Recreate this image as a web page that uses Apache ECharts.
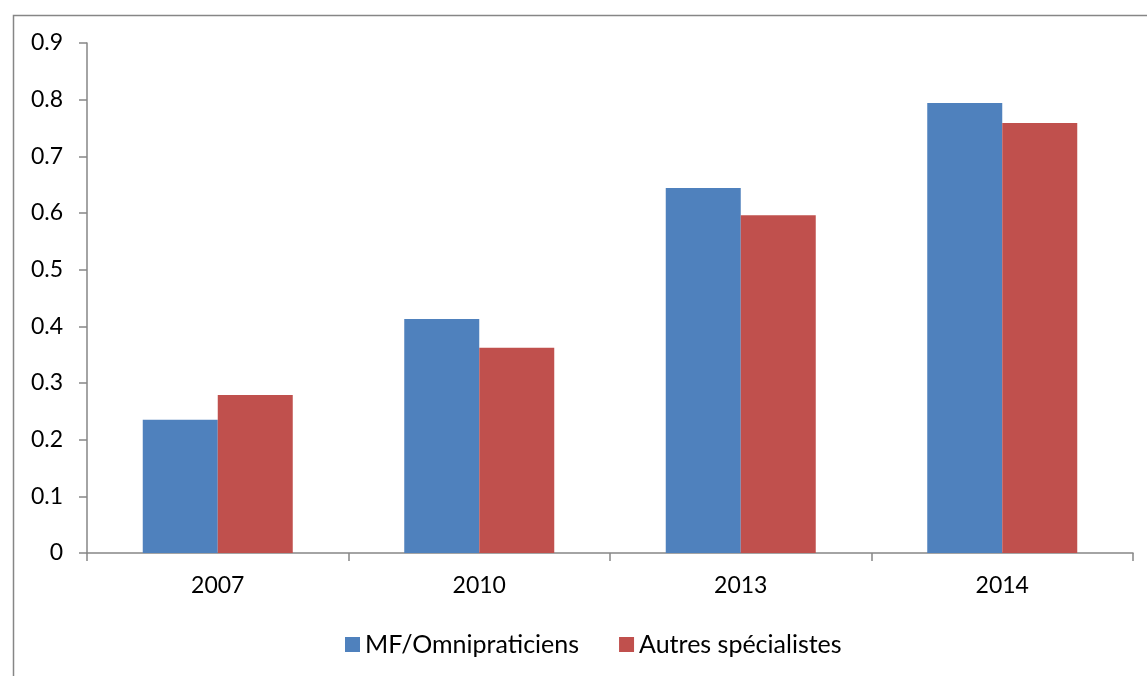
<!DOCTYPE html>
<html>
<head>
<meta charset="utf-8">
<script src="https://cdn.jsdelivr.net/npm/echarts@6/dist/echarts.min.js"></script>
<style>
  html, body { margin: 0; padding: 0; background: #fff; }
  #chart { width: 1147px; height: 676px; }
</style>
</head>
<body>
<div id="chart"></div>
<script>
// Survey years on the category axis
const years = ['2007', '2010', '2013', '2014'];
// Values per group of physicians
const mfOmnipraticiens = [0.235, 0.413, 0.644, 0.794];
const autresSpecialistes = [0.279, 0.362, 0.596, 0.759];
const seriesNames = ['MF/Omnipraticiens', 'Autres spécialistes'];

const FONT = 'Lato, "Open Sans", sans-serif';
const chart = echarts.init(document.getElementById('chart'), null, { renderer: 'canvas' });

chart.setOption({
  animation: false,
  backgroundColor: '#ffffff',
  textStyle: { fontFamily: FONT },
  graphic: [{
    type: 'rect',
    left: 11, top: 13,
    shape: { width: 1200, height: 700 },
    style: { fill: 'none', stroke: '#868686', lineWidth: 1.5 },
    silent: true
  }],
  legend: {
    top: 632,
    left: 345,
    padding: 0,
    itemWidth: 15,
    itemHeight: 15,
    itemGap: 40,
    icon: 'rect',
    textStyle: { fontSize: 25, color: '#000', fontFamily: FONT },
    data: seriesNames
  },
  grid: { left: 87, right: 14, top: 43, bottom: 123, containLabel: false },
  xAxis: {
    type: 'category',
    data: years,
    axisLine: { lineStyle: { color: '#868686', width: 1.5 } },
    axisTick: { show: true, length: 8, lineStyle: { color: '#868686', width: 1.5 } },
    axisLabel: { fontSize: 23, color: '#000', margin: 21, fontFamily: FONT },
    splitLine: { show: false }
  },
  yAxis: {
    type: 'value',
    min: 0, max: 0.9, interval: 0.1,
    axisLine: { show: true, lineStyle: { color: '#868686', width: 1.5 } },
    axisTick: { show: true, length: 8, lineStyle: { color: '#868686', width: 1.5 } },
    axisLabel: {
      fontSize: 23, color: '#000', margin: 24, fontFamily: FONT,
      formatter: v => (Math.round(v * 10) / 10).toString()
    },
    splitLine: { show: false }
  },
  series: [
    {
      name: seriesNames[0],
      type: 'bar',
      data: mfOmnipraticiens,
      barWidth: 75,
      barGap: '0%',
      itemStyle: { color: '#4F81BD' }
    },
    {
      name: seriesNames[1],
      type: 'bar',
      data: autresSpecialistes,
      barWidth: 75,
      barGap: '0%',
      itemStyle: { color: '#C0504D' }
    }
  ]
});
</script>
</body>
</html>
